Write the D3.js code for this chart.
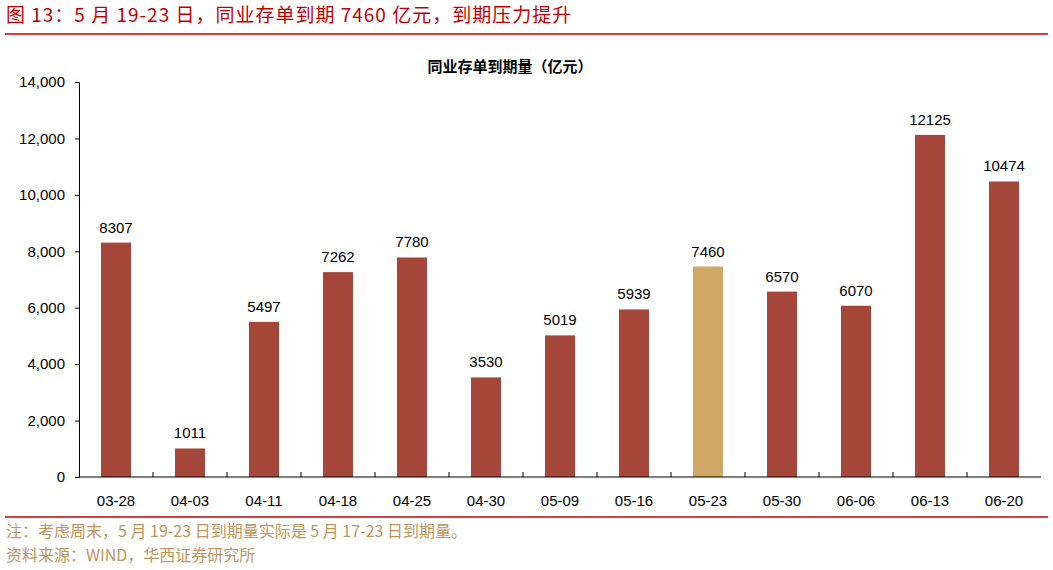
<!DOCTYPE html>
<html><head><meta charset="utf-8">
<script src="https://cdn.jsdelivr.net/npm/d3@7"></script>
<style>body{margin:0;background:#fff}svg{display:block}text{font-family:"Liberation Sans","Noto Sans CJK SC",sans-serif}</style>
</head><body><svg id="c" width="1053" height="570"></svg>
<script>
const categories=["03-28","04-03","04-11","04-18","04-25","04-30","05-09","05-16","05-23","05-30","06-06","06-13","06-20"];
const values=[8307,1011,5497,7262,7780,3530,5019,5939,7460,6570,6070,12125,10474];
const highlight=["05-23"];
const yTicks=[0,2000,4000,6000,8000,10000,12000,14000];
const svg=d3.select("#c");
const cjk='"Noto Sans CJK SC",sans-serif';
svg.append("text").attr("x",6).attr("y",22).attr("fill","#C00000").attr("font-size",19).style("font-family",cjk).attr("letter-spacing",1)
 .text("图 13：5 月 19-23 日，同业存单到期 7460 亿元，到期压力提升");
svg.append("line").attr("x1",5).attr("x2",1048).attr("y1",34).attr("y2",34).attr("stroke","#C00000").attr("stroke-width",1.5);
svg.append("line").attr("x1",5).attr("x2",1048).attr("y1",517).attr("y2",517).attr("stroke","#C00000").attr("stroke-width",1.5);
svg.append("text").attr("x",510).attr("y",72).attr("text-anchor","middle").attr("font-size",15).attr("font-weight","bold").style("font-family",cjk).text("同业存单到期量（亿元）");
const x=d3.scaleBand().domain(categories).range([79,1041]).paddingInner(0.595).paddingOuter(0.2975);
const y=d3.scaleLinear().domain([0,14000]).range([477,82]);
svg.selectAll("rect").data(values).join("rect").attr("x",(d,i)=>x(categories[i])).attr("width",x.bandwidth())
 .attr("y",d=>y(d)).attr("height",d=>y(0)-y(d)).attr("fill",(d,i)=>highlight.includes(categories[i])?"#D0A764":"#A5463A");
svg.selectAll(".lab").data(values).join("text").attr("x",(d,i)=>x(categories[i])+x.bandwidth()/2).attr("y",d=>y(d)-10)
 .attr("text-anchor","middle").attr("font-size",15).text(d=>d);
const ya=svg.append("g").attr("transform","translate(79,0)").call(d3.axisLeft(y).tickValues(yTicks).tickSize(4).tickFormat(d3.format(",")));
ya.selectAll("text").attr("font-size",15).attr("fill","#000").attr("x",-14);
ya.select(".domain").attr("stroke","#000");ya.selectAll(".tick line").attr("stroke","#000");
const step=x.step();
const xa=svg.append("g").attr("transform","translate(0,477)");
xa.append("line").attr("x1",79).attr("x2",1041).attr("stroke","#000");
xa.selectAll(".t").data(categories.slice(1)).join("line").attr("x1",d=>x(d)-x.paddingInner()*step/2-0.5*0).attr("x2",d=>x(d)-x.paddingInner()*step/2).attr("y1",0).attr("y2",-5).attr("stroke","#000");
xa.selectAll(".tl").data(categories).join("text").attr("x",d=>x(d)+x.bandwidth()/2).attr("y",29).attr("text-anchor","middle").attr("font-size",15).text(d=>d);
svg.append("text").attr("x",6).attr("y",537).attr("fill","#C0945A").attr("font-size",16).style("font-family",cjk).text("注：考虑周末，5 月 19-23 日到期量实际是 5 月 17-23 日到期量。");
svg.append("text").attr("x",6).attr("y",561).attr("fill","#C0945A").attr("font-size",16).style("font-family",cjk).text("资料来源：WIND，华西证券研究所");
</script></body></html>
